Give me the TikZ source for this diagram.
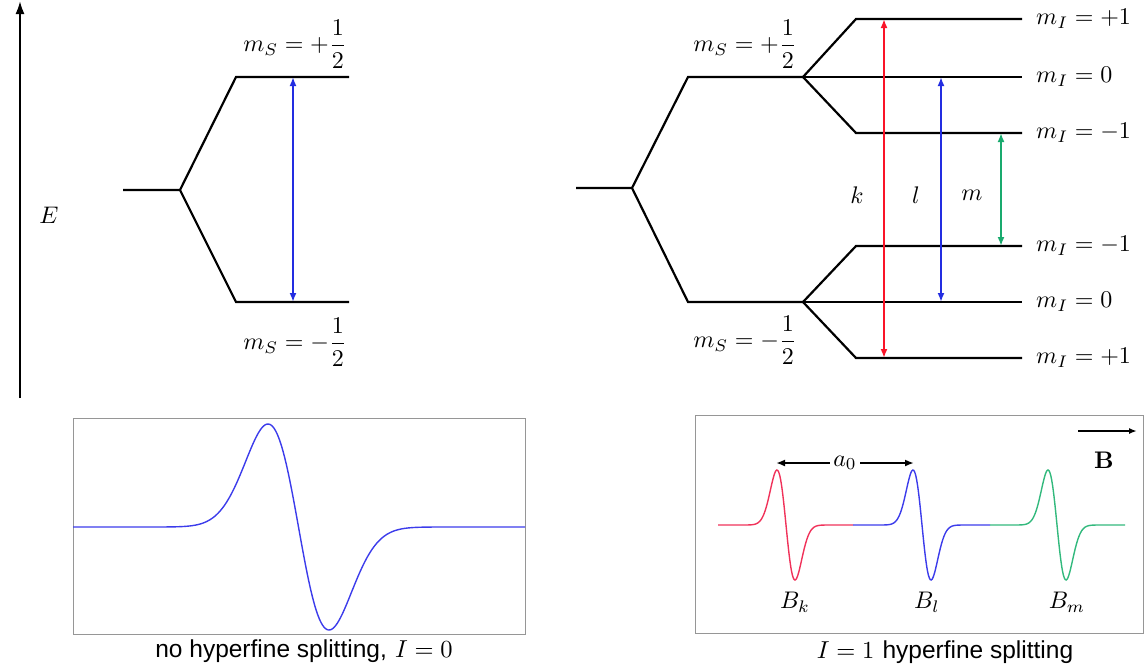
\documentclass[tikz,border=0pt]{standalone}
\usepackage{amsmath}
\usepackage{graphicx}
\usepackage{fontspec}
\newfontfamily\capfont{Liberation Sans}
\usetikzlibrary{arrows.meta}
\newcommand\bigtxt[1]{\scalebox{2.4}{#1}}
\newcommand\captxt[1]{\scalebox{2.45}{#1}}
\definecolor{ared}{RGB}{250,20,40}
\definecolor{ablue}{RGB}{35,45,225}
\definecolor{agreen}{RGB}{25,170,110}
\definecolor{cred}{RGB}{240,50,90}
\definecolor{cblue}{RGB}{60,60,235}
\definecolor{cgreen}{RGB}{50,185,125}
\definecolor{frame}{RGB}{150,150,150}
\begin{document}
\begin{tikzpicture}[x=1pt,y=-1pt,
  lvl/.style={line width=2.2pt,black},
  trans/.style={line width=2pt,{Latex[length=9pt,width=7pt]}-{Latex[length=9pt,width=7pt]}},
  lab/.style={inner sep=0pt},
  capnode/.style={inner sep=0pt},
  box/.style={draw=frame,line width=0.8pt},
  spec/.style={line width=1.4pt}]
\useasboundingbox (0,0) rectangle (1146,667);

% energy axis
\coordinate (e0) at (20,398);
\coordinate (e1) at (20,1);
\draw[line width=2pt,-{Latex[length=13pt,width=9pt]}] (e0) -- (e1);
\node[lab] (E) at (49,215) {\bigtxt{$E$}};

% left level diagram
\coordinate (L0) at (123,190);
\coordinate (L1) at (180,190);
\coordinate (Lu0) at (236,77);
\coordinate (Lu1) at (349,77);
\coordinate (Ld0) at (236,302);
\coordinate (Ld1) at (349,302);
\draw[lvl] (L0) -- (L1) -- (Lu0) -- (Lu1);
\draw[lvl] (L1) -- (Ld0) -- (Ld1);
\coordinate (Lt0) at (293,77);
\coordinate (Lt1) at (293,302);
\draw[trans,ablue] (Lt0) -- (Lt1);
\node[lab] (Lmsu) at (295,44) {\bigtxt{$m_S=+\dfrac{1}{2}$}};
\node[lab] (Lmsd) at (295,342) {\bigtxt{$m_S=-\dfrac{1}{2}$}};

% right level diagram
\coordinate (R0) at (576,188);
\coordinate (R1) at (632,188);
\coordinate (Ru0) at (688,77);
\coordinate (Ru1) at (803,77);
\coordinate (Rd0) at (688,302);
\coordinate (Rd1) at (803,302);
\draw[lvl] (R0) -- (R1) -- (Ru0) -- (Ru1);
\draw[lvl] (R1) -- (Rd0) -- (Rd1);
% upper hyperfine
\coordinate (Ua) at (856,19);   \coordinate (UaE) at (1022,19);
\coordinate (UbE) at (1022,77);
\coordinate (Uc) at (856,133);  \coordinate (UcE) at (1022,133);
\draw[lvl] (Ru1) -- (Ua) -- (UaE);
\draw[lvl] (Ru1) -- (UbE);
\draw[lvl] (Ru1) -- (Uc) -- (UcE);
% lower hyperfine
\coordinate (Da) at (856,246);  \coordinate (DaE) at (1022,246);
\coordinate (DbE) at (1022,302);
\coordinate (Dc) at (856,358);  \coordinate (DcE) at (1022,358);
\draw[lvl] (Rd1) -- (Da) -- (DaE);
\draw[lvl] (Rd1) -- (DbE);
\draw[lvl] (Rd1) -- (Dc) -- (DcE);
% transitions
\coordinate (k0) at (884,19);  \coordinate (k1) at (884,358);
\coordinate (l0) at (941,77);  \coordinate (l1) at (941,302);
\coordinate (m0) at (1001,133); \coordinate (m1) at (1001,246);
\draw[trans,ared] (k0) -- (k1);
\draw[trans,ablue] (l0) -- (l1);
\draw[trans,agreen] (m0) -- (m1);
\node[lab] (kl) at (857,195) {\bigtxt{$k$}};
\node[lab] (ll) at (916,195) {\bigtxt{$l$}};
\node[lab] (ml) at (972,195) {\bigtxt{$m$}};
\node[lab] (Rmsu) at (745,44) {\bigtxt{$m_S=+\dfrac{1}{2}$}};
\node[lab] (Rmsd) at (745,340) {\bigtxt{$m_S=-\dfrac{1}{2}$}};
\node[lab,anchor=west] (mi1) at (1036,19) {\bigtxt{$m_I=+1$}};
\node[lab,anchor=west] (mi2) at (1036,77) {\bigtxt{$m_I=0$}};
\node[lab,anchor=west] (mi3) at (1036,133) {\bigtxt{$m_I=-1$}};
\node[lab,anchor=west] (mi4) at (1036,246) {\bigtxt{$m_I=-1$}};
\node[lab,anchor=west] (mi5) at (1036,302) {\bigtxt{$m_I=0$}};
\node[lab,anchor=west] (mi6) at (1036,358) {\bigtxt{$m_I=+1$}};

% bottom left spectrum
\draw[box] (73,418) rectangle (525,634);
\draw[spec,cblue] plot[domain=73:525,samples=300,smooth]
  (\x,{527+103*((\x-298.5)/30.5)*exp(0.5-((\x-298.5)/30.5)^2/2)});
\node[capnode] (capL) at (304,651) {\captxt{{\capfont no hyperfine splitting,} $I=0$}};

% bottom right spectrum
\draw[box] (695,415) rectangle (1143,633);
\draw[spec,cred] plot[domain=718:853,samples=150,smooth]
  (\x,{525+55*((\x-786)/9)*exp(0.5-((\x-786)/9)^2/2)});
\draw[spec,cblue] plot[domain=853:990,samples=150,smooth]
  (\x,{525+55*((\x-922)/9)*exp(0.5-((\x-922)/9)^2/2)});
\draw[spec,cgreen] plot[domain=990:1125,samples=150,smooth]
  (\x,{525+55*((\x-1057)/9)*exp(0.5-((\x-1057)/9)^2/2)});
\coordinate (a0s) at (776,463);
\coordinate (a0e) at (914,463);
\draw[line width=1.8pt,{Latex[length=9pt,width=7pt]}-{Latex[length=9pt,width=7pt]}] (a0s) -- (a0e);
\node[lab,fill=white,inner sep=3pt] (a0) at (845,463) {\bigtxt{$a_0$}};
\coordinate (Bs) at (1078,431);
\coordinate (Be) at (1137,431);
\draw[line width=1.8pt,-{Latex[length=8pt,width=6pt]}] (Bs) -- (Be);
\node[lab] (Bl) at (1104,460) {\bigtxt{\textbf{B}}};
\node[lab] (Bk) at (795,602) {\bigtxt{$B_k$}};
\node[lab] (Bll) at (927,602) {\bigtxt{$B_l$}};
\node[lab] (Bm) at (1067,602) {\bigtxt{$B_m$}};
\node[capnode] (capR) at (945,652) {\captxt{$I=1$ {\capfont hyperfine splitting}}};
\end{tikzpicture}
\end{document}
